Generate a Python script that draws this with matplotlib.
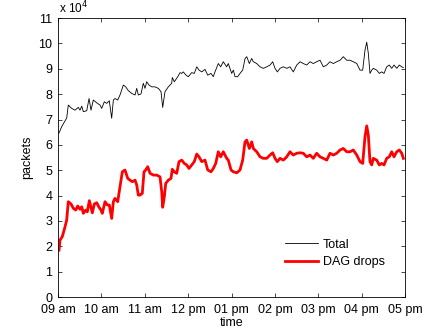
import matplotlib
matplotlib.use('Agg')
import matplotlib.pyplot as plt

plt.rcParams['font.family'] = ['Liberation Sans', 'DejaVu Sans']

# minutes after 09:00, packets in units of 1e4
total_min = [1.4, 5.1, 12.0, 14.2, 18.9, 23.5, 28.1, 30.4, 32.8, 35.0, 39.7, 42.9, 45.6, 48.8,
             53.5, 58.1, 60.4, 64.0, 67.3, 70.9, 74.2, 76.5, 78.8, 82.5, 85.7, 90.3, 93.6, 97.2,
             101.9, 106.5, 108.8, 111.0, 114.7, 117.9, 120.3, 122.6, 125.8, 129.5, 134.1, 138.7,
             142.4, 144.7, 147.9, 152.5, 157.2, 158.0, 160.8, 165.5, 168.7, 171.0, 173.2, 177.0,
             180.1, 184.8, 188.4, 191.8, 194.9, 198.7, 203.2, 207.0, 211.5, 214.7, 217.0, 221.6,
             224.9, 228.5, 233.2, 235.4, 240.1, 242.4, 244.7, 248.4, 251.6, 255.3, 258.5, 260.9,
             264.5, 267.8, 270.0, 274.7, 279.3, 283.8, 288.5, 293.1, 296.8, 300.0, 303.2, 306.9,
             311.5, 316.2, 320.7, 325.3, 330.0, 334.6, 339.1, 343.8, 348.4, 352.9, 357.6, 362.2,
             366.8, 371.5, 376.0, 380.6, 385.3, 389.9, 394.4, 399.1, 403.7, 408.2, 413.0, 417.5,
             421.2, 424.4, 426.8, 429.0, 431.3, 433.7, 435.9, 440.6, 444.2, 447.5, 450.7, 454.4,
             458.0, 461.3, 464.5, 468.3, 471.8, 475.2, 477.4]
total_pkts = [6.47, 6.72, 7.06, 7.57, 7.44, 7.37, 7.48, 7.37, 7.53, 7.31, 7.35, 7.83, 7.37, 7.77,
              7.66, 7.57, 7.44, 7.70, 7.64, 7.74, 7.05, 7.77, 7.83, 7.77, 7.97, 8.36, 8.29, 8.14,
              8.03, 7.97, 8.23, 7.97, 8.01, 8.43, 8.23, 8.49, 8.36, 8.29, 8.29, 8.23,
              8.10, 7.48, 8.10, 8.29, 8.43, 8.66, 8.49, 8.69, 8.85, 8.82, 8.88, 8.75,
              8.69, 8.85, 8.82, 9.08, 8.95, 8.88, 8.98, 8.75, 8.82, 8.69, 8.88, 9.21,
              9.08, 9.28, 9.08, 9.21, 8.82, 8.95, 8.69, 8.69, 8.82, 8.95, 9.40, 9.48,
              9.21, 9.41, 9.28, 9.21, 9.08, 9.02, 9.08, 9.15, 9.28, 9.02, 8.88, 9.02,
              9.08, 9.02, 9.08, 8.88, 9.15, 9.28, 9.21, 9.15, 9.28, 9.21, 9.28, 9.34,
              9.08, 9.15, 9.28, 9.21, 9.28, 9.34, 9.48, 9.34, 9.34, 9.28, 9.21, 8.95,
              8.95, 9.74, 10.05, 9.61, 8.82, 8.95, 9.02, 8.95, 8.82, 8.88, 8.82, 9.08,
              9.15, 9.02, 9.15, 9.02, 9.15, 9.08, 9.05]

dag_min = [1.4, 2.8, 5.9, 9.7, 12.0, 14.2, 18.0, 21.2, 24.5, 27.2, 30.4, 32.8, 35.0, 38.3, 40.5,
           43.3, 45.6, 47.4, 50.2, 53.5, 56.7, 59.4, 61.2, 65.0, 68.2, 70.9, 74.2, 76.5, 78.8,
           82.5, 85.7, 88.9, 92.6, 96.4, 99.5, 102.7, 106.5, 108.8, 111.0, 113.4, 116.5, 118.9,
           121.2, 124.0, 127.2, 131.8, 136.5, 141.0, 143.4, 144.7, 147.0, 148.9, 152.5, 156.2,
           158.0, 160.8, 164.1, 167.3, 171.0, 174.6, 177.9, 181.1, 184.8, 188.4, 191.8, 194.9,
           198.7, 203.2, 207.0, 211.5, 214.7, 218.0, 221.6, 224.9, 228.5, 233.2, 235.4, 239.2,
           242.4, 247.1, 251.6, 255.3, 258.5, 260.9, 264.5, 267.8, 270.0, 274.7, 279.3, 283.8,
           288.5, 293.1, 296.8, 300.0, 303.2, 306.9, 311.5, 316.2, 320.7, 325.3, 330.0, 334.6,
           339.1, 343.8, 348.4, 352.9, 357.6, 362.2, 366.8, 371.5, 376.0, 380.6, 385.3, 389.9,
           394.4, 399.1, 403.7, 408.2, 413.0, 417.5, 421.2, 424.4, 426.8, 429.0, 431.3, 433.7,
           435.9, 440.6, 444.2, 447.5, 450.7, 454.4, 458.0, 461.3, 464.5, 468.3, 471.8, 475.2,
           477.4]
dag_pkts = [1.85, 2.25, 2.38, 2.77, 3.04, 3.76, 3.67, 3.50, 3.43, 3.59, 3.46, 3.56, 3.30, 3.43, 3.36,
            3.80, 3.54, 3.32, 3.67, 3.72, 3.54, 3.43, 3.30, 3.76, 3.63, 3.63, 3.10, 3.76, 3.89,
            3.76, 4.35, 4.94, 5.01, 4.68, 4.61, 4.55, 4.61, 4.42, 4.02, 4.02, 4.09, 4.94,
            5.01, 5.14, 4.88, 4.81, 4.81, 4.74, 4.15, 3.54, 3.96, 4.48, 4.61, 4.68,
            5.04, 4.94, 4.88, 5.34, 5.40, 5.27, 5.21, 5.07, 5.21, 5.34, 5.64, 5.53,
            5.34, 5.40, 5.01, 4.94, 5.07, 5.27, 5.73, 5.53, 5.73, 5.47, 5.40, 5.01,
            4.94, 4.90, 5.01, 5.40, 6.12, 6.19, 5.86, 6.12, 5.86, 5.73, 5.53, 5.47,
            5.47, 5.60, 5.69, 5.47, 5.34, 5.47, 5.40, 5.53, 5.73, 5.60, 5.67, 5.69,
            5.67, 5.53, 5.60, 5.47, 5.67, 5.53, 5.47, 5.40, 5.67, 5.60, 5.67, 5.80,
            5.86, 5.73, 5.73, 5.80, 5.60, 5.34, 5.27, 6.32, 6.75, 6.39, 5.34, 5.21,
            5.47, 5.40, 5.21, 5.27, 5.21, 5.47, 5.53, 5.73, 5.53, 5.73, 5.80, 5.67,
            5.47]

hour_labels = ['09 am', '10 am', '11 am', '12 pm', '01 pm', '02 pm', '03 pm', '04 pm', '05 pm']

fig = plt.figure(figsize=(4.48, 3.36), dpi=100)
ax = fig.add_axes([0.1295, 0.116, 0.775, 0.83])

ax.plot(total_min, total_pkts, '-', color='black', linewidth=0.6, label='Total')
ax.plot(dag_min, dag_pkts, '-', color='red', linewidth=2, label='DAG drops')

ax.set_xlim(0, 480)
ax.set_ylim(0, 11)
ax.set_xticks(range(0, 481, 60))
ax.set_xticklabels(hour_labels)
ax.set_yticks(range(0, 12))
ax.tick_params(direction='in', top=True, right=True, labelsize=9, length=3, width=0.5)
ax.tick_params(axis='x', pad=5)
ax.tick_params(axis='y', pad=4)
for s in ax.spines.values():
    s.set_linewidth(0.6)

ax.set_xlabel('time', fontsize=9, labelpad=1)
ax.set_ylabel('packets', fontsize=9, labelpad=4)
ax.text(0.003, 1.006, 'x 10$^4$', transform=ax.transAxes, fontsize=8.5, ha='left', va='bottom')

ax.legend(loc='lower right', frameon=False, fontsize=9, handlelength=2.6,
          bbox_to_anchor=(0.955, 0.085), borderaxespad=0, labelspacing=0.45, handletextpad=0.4)

plt.savefig('out.png', dpi=100)
